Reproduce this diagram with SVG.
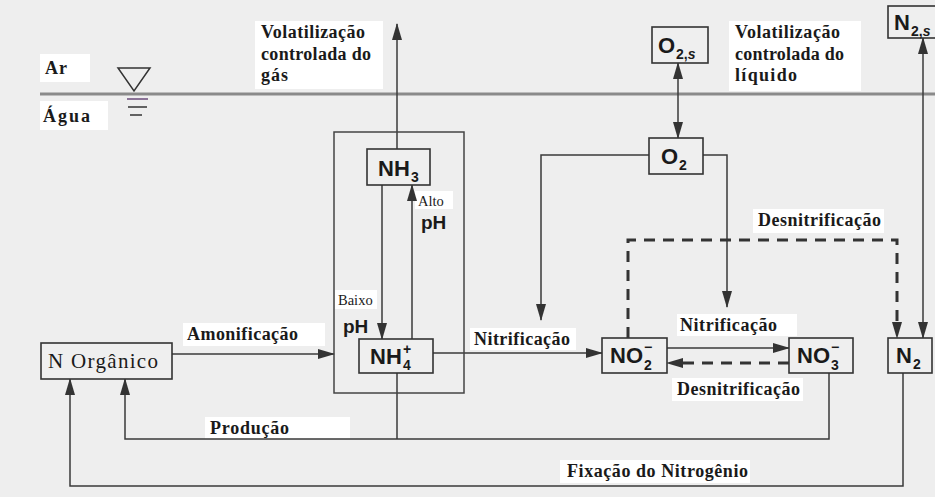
<svg xmlns="http://www.w3.org/2000/svg" width="935" height="497" viewBox="0 0 935 497">
<style>
.bg{fill:#eeeeee}
.lbg{fill:#ffffff}
.box{fill:#efefef;stroke:#333;stroke-width:1.6}
.ln{fill:none;stroke:#3a3a3a;stroke-width:1.5}
.dash{fill:none;stroke:#333;stroke-width:3;stroke-dasharray:11 8}
.lbl{font-family:"Liberation Serif",serif;font-weight:bold;font-size:18px;fill:#1a1a1a}
.chem{font-family:"Liberation Sans",Arial,sans-serif;font-weight:bold;font-size:22px;fill:#1a1a1a}
.sub{font-family:"Liberation Sans",Arial,sans-serif;font-weight:bold;font-size:14px;fill:#1a1a1a}
.ph{font-family:"Liberation Sans",Arial,sans-serif;font-weight:bold;font-size:19px;fill:#1a1a1a}
.small{font-family:"Liberation Serif",serif;font-size:14.5px;fill:#1a1a1a}
</style>
<defs>
<marker id="ah" markerUnits="userSpaceOnUse" markerWidth="17" markerHeight="10" refX="16" refY="5" orient="auto-start-reverse">
<path d="M0,0 L17,5 L0,10 z" fill="#333" stroke="none"/>
</marker>
</defs>
<rect class="bg" x="0" y="0" width="935" height="497"/>

<g id="label-backgrounds">
<rect class="lbg" x="40" y="54" width="50" height="28"/>
<rect class="lbg" x="40" y="101" width="68" height="29"/>
<rect class="lbg" x="255" y="21" width="128" height="68"/>
<rect class="lbg" x="729" y="21" width="132" height="70"/>
<rect class="lbg" x="183" y="323" width="142" height="23"/>
<rect class="lbg" x="470" y="328" width="106" height="22"/>
<rect class="lbg" x="677" y="314" width="120" height="22"/>
<rect class="lbg" x="672" y="378" width="131" height="23"/>
<rect class="lbg" x="753" y="209" width="131" height="24"/>
<rect class="lbg" x="205" y="417" width="145" height="22"/>
<rect class="lbg" x="560" y="460" width="190" height="23"/>
<rect class="lbg" x="415" y="191" width="38" height="18"/>
<rect class="lbg" x="335" y="290" width="42" height="19"/>
</g>

<g id="surface">
<line x1="40" y1="94" x2="935" y2="94" stroke="#8a8a8a" stroke-width="3"/>
<path d="M118,68 H150 L134,91 z" fill="none" stroke="#333" stroke-width="1.5"/>
<line x1="127" y1="99" x2="148" y2="99" stroke="#6a4a7a" stroke-width="1.5"/>
<line x1="128" y1="107" x2="147" y2="107" stroke="#333" stroke-width="1.5"/>
<line x1="130" y1="115" x2="142" y2="115" stroke="#333" stroke-width="1.5"/>
<text class="lbl" x="45" y="74" font-size="19" textLength="22" lengthAdjust="spacing">Ar</text>
<text class="lbl" x="43" y="122" font-size="19" textLength="47" lengthAdjust="spacing">Água</text>
</g>

<g id="connectors">
<line class="ln" x1="397" y1="149" x2="397" y2="24" marker-end="url(#ah)"/>
<line class="ln" x1="382" y1="185" x2="382" y2="339" marker-end="url(#ah)"/>
<line class="ln" x1="412" y1="339" x2="412" y2="185" marker-end="url(#ah)"/>
<line class="ln" x1="172" y1="354" x2="334" y2="354" marker-end="url(#ah)"/>
<line class="ln" x1="433" y1="353" x2="602" y2="353" marker-end="url(#ah)"/>
<line class="ln" x1="678" y1="63" x2="678" y2="138" marker-start="url(#ah)" marker-end="url(#ah)"/>
<path class="ln" d="M649,155 H541 V320" marker-end="url(#ah)"/>
<path class="ln" d="M703,155 H727 V307" marker-end="url(#ah)"/>
<path class="dash" d="M628,338 V240 H897 V322"/>
<line x1="897" y1="320" x2="897" y2="338" stroke="none" marker-end="url(#ah)"/>
<line class="ln" x1="667" y1="348" x2="789" y2="348" marker-end="url(#ah)"/>
<path class="dash" d="M789,363 H683"/>
<line x1="690" y1="363" x2="667" y2="363" stroke="none" marker-end="url(#ah)"/>
<line class="ln" x1="923" y1="38" x2="923" y2="338" marker-start="url(#ah)" marker-end="url(#ah)"/>
<path class="ln" d="M829,373 V439 H125 V379" marker-end="url(#ah)"/>
<line class="ln" x1="397" y1="373" x2="397" y2="439"/>
<path class="ln" d="M903,373 V486 H70 V379" stroke-width="1.8" marker-end="url(#ah)"/>
</g>

<g id="ammonia-system">
<rect x="334" y="132" width="130" height="261" fill="none" stroke="#444" stroke-width="1.5"/>
</g>

<g id="node-nh3">
<rect class="box" x="367" y="149" width="63" height="36"/>
<text class="chem" x="378" y="176">NH</text>
<text class="sub" x="411" y="182">3</text>
</g>

<g id="node-nh4">
<rect class="box" x="359" y="339" width="74" height="34"/>
<text class="chem" x="370" y="364">NH</text>
<text class="sub" x="403" y="370">4</text>
<text class="sub" x="403" y="354">+</text>
</g>

<g id="node-norg">
<rect class="box" x="41" y="343" width="131" height="36"/>
<text x="48" y="368" font-family="Liberation Serif, serif" font-size="21" fill="#1a1a1a" textLength="110" lengthAdjust="spacing">N Orgânico</text>
</g>

<g id="node-no2">
<rect class="box" x="602" y="338" width="65" height="35"/>
<text class="chem" x="610" y="363">NO</text>
<text class="sub" x="644" y="370">2</text>
<text class="sub" x="644" y="352">−</text>
</g>

<g id="node-no3">
<rect class="box" x="789" y="338" width="64" height="35"/>
<text class="chem" x="797" y="363">NO</text>
<text class="sub" x="831" y="370">3</text>
<text class="sub" x="831" y="352">−</text>
</g>

<g id="node-n2">
<rect class="box" x="888" y="338" width="44" height="35"/>
<text class="chem" x="896" y="363">N</text>
<text class="sub" x="913" y="369">2</text>
</g>

<g id="node-o2">
<rect class="box" x="649" y="138" width="54" height="36"/>
<text class="chem" x="661" y="164">O</text>
<text class="sub" x="679" y="170">2</text>
</g>

<g id="node-o2s">
<rect class="box" x="652" y="27" width="56" height="36"/>
<text class="chem" x="658" y="53">O</text>
<text class="sub" x="676" y="59">2,<tspan font-style="italic">s</tspan></text>
</g>

<g id="node-n2s">
<rect class="box" x="888" y="6" width="52" height="32"/>
<text class="chem" x="894" y="30">N</text>
<text class="sub" x="911" y="36">2,<tspan font-style="italic">s</tspan></text>
</g>

<g id="labels">
<text class="lbl" x="261" y="38" textLength="104" lengthAdjust="spacing">Volatilização</text>
<text class="lbl" x="261" y="60" textLength="110" lengthAdjust="spacing">controlada do</text>
<text class="lbl" x="261" y="81" textLength="27" lengthAdjust="spacing">gás</text>
<text class="lbl" x="735" y="38" textLength="105" lengthAdjust="spacing">Volatilização</text>
<text class="lbl" x="735" y="60" textLength="109" lengthAdjust="spacing">controlada do</text>
<text class="lbl" x="735" y="81" textLength="62" lengthAdjust="spacing">líquido</text>
<text class="small" x="418" y="206">Alto</text>
<text class="ph" x="421" y="229">pH</text>
<text class="small" x="338" y="305">Baixo</text>
<text class="ph" x="343" y="333">pH</text>
<text class="lbl" x="187" y="340" textLength="111" lengthAdjust="spacing">Amonificação</text>
<text class="lbl" x="474" y="345" textLength="96" lengthAdjust="spacing">Nitrificação</text>
<text class="lbl" x="680" y="331" textLength="97" lengthAdjust="spacing">Nitrificação</text>
<text class="lbl" x="677" y="395" textLength="123" lengthAdjust="spacing">Desnitrificação</text>
<text class="lbl" x="758" y="226" textLength="123" lengthAdjust="spacing">Desnitrificação</text>
<text class="lbl" x="210" y="434" textLength="79" lengthAdjust="spacing">Produção</text>
<text class="lbl" x="567" y="477" textLength="181" lengthAdjust="spacing">Fixação do Nitrogênio</text>
</g>
</svg>
